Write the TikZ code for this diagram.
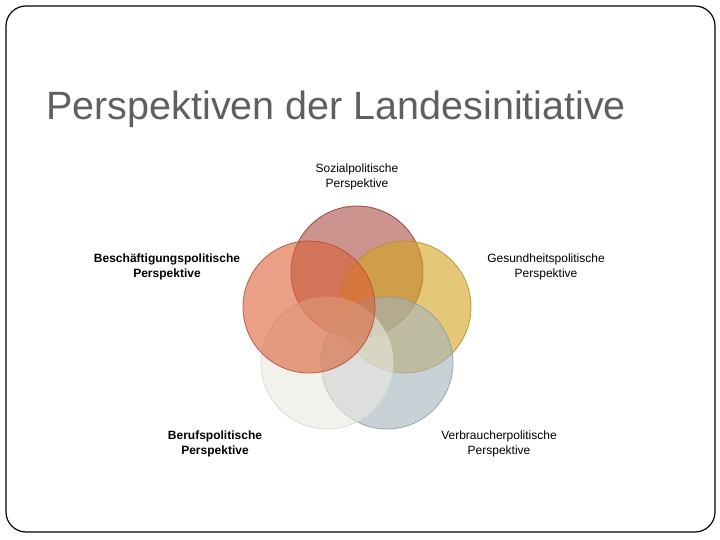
\documentclass[tikz,border=0pt]{standalone}
\usepackage{fontspec}
\setmainfont{Liberation Sans}

\definecolor{titlegray}{RGB}{95,95,95}
\definecolor{sozial}{RGB}{172,77,68}
\definecolor{sozialrand}{RGB}{140,55,50}
\definecolor{beschaeftigung}{RGB}{218,97,55}
\definecolor{beschaeftigungrand}{RGB}{180,75,50}
\definecolor{gesundheit}{RGB}{210,163,30}
\definecolor{gesundheitrand}{RGB}{180,140,35}
\definecolor{beruf}{RGB}{233,232,223}
\definecolor{berufrand}{RGB}{215,215,208}
\definecolor{verbraucher}{RGB}{163,180,187}
\definecolor{verbraucherrand}{RGB}{140,155,162}

\begin{document}
\begin{tikzpicture}[x=1pt,y=-1pt,thick,
    lbl/.style={align=center,inner sep=0pt,font=\fontsize{12}{14.8}\selectfont},
    venn/.style={fill opacity=0.6,draw opacity=0.85,line width=0.8pt}]
    \useasboundingbox (0,0) rectangle (720,540);
    \draw[rounded corners=20pt,line width=1.2pt] (6,6) rectangle (715,532);

    \node[anchor=base west,inner sep=0pt,text=titlegray,font=\fontsize{39.5}{46}\selectfont] (titel) at (46,120) {Perspektiven der Landesinitiative};

    \filldraw[venn,fill=sozial,draw=sozialrand] (357,272) circle [radius=66pt];
    \filldraw[venn,fill=gesundheit,draw=gesundheitrand] (405,307) circle [radius=66pt];
    \filldraw[venn,fill=verbraucher,draw=verbraucherrand] (387,363) circle [radius=66pt];
    \filldraw[venn,fill=beruf,draw=berufrand] (327,363) circle [radius=66pt];
    \filldraw[venn,fill=beschaeftigung,draw=beschaeftigungrand] (309,307) circle [radius=66pt];

    \node[lbl] (sozial) at (357,177) {Sozialpolitische\\Perspektive};
    \node[lbl,font=\fontsize{12}{14.8}\selectfont\bfseries] (beschaeftigung) at (167,266.5) {Beschäftigungspolitische\\Perspektive};
    \node[lbl] (gesundheit) at (546,266.5) {Gesundheitspolitische\\Perspektive};
    \node[lbl,font=\fontsize{12}{14.8}\selectfont\bfseries] (beruf) at (215,444) {Berufspolitische\\Perspektive};
    \node[lbl] (verbraucher) at (499,444) {Verbraucherpolitische\\Perspektive};
\end{tikzpicture}
\end{document}
